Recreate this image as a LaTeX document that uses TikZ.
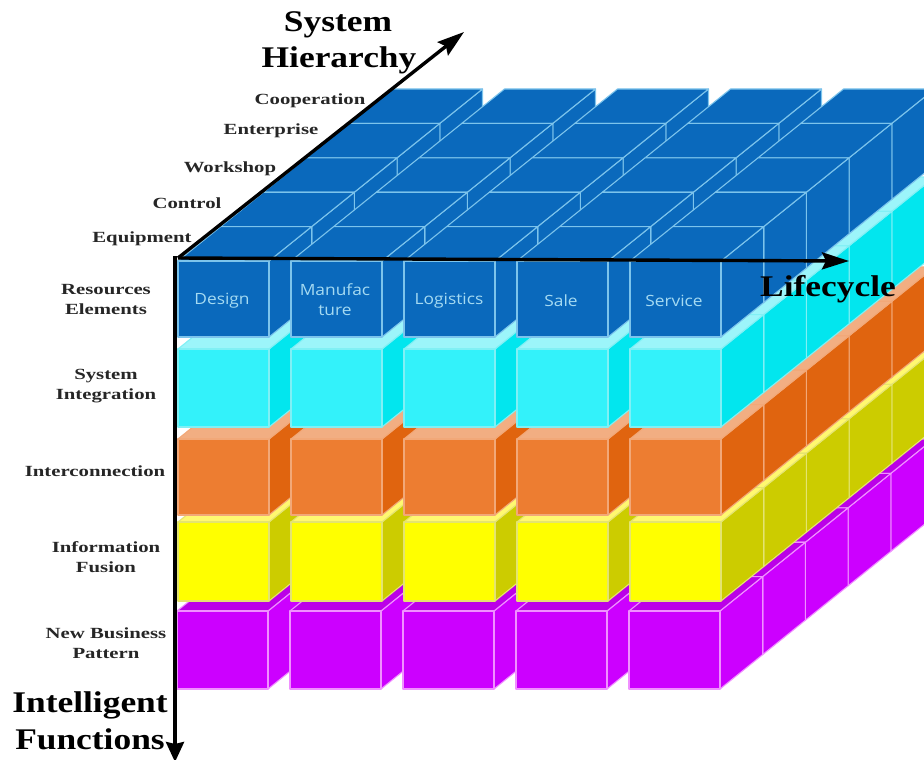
\documentclass[tikz,border=0pt]{standalone}
\usepackage{fontspec}
\setmainfont{Liberation Serif}
\newfontfamily\facefont[FakeStretch=1.12]{Open Sans}
\newfontfamily\bigfont[FakeStretch=1.18]{Liberation Serif}
\newfontfamily\smallfont[FakeStretch=1.34]{Liberation Serif}
\usetikzlibrary{arrows.meta}
\definecolor{bluef}{HTML}{0A69BC}
\definecolor{bluee}{HTML}{7CC4EC}
\definecolor{cyanf}{HTML}{33F2FA}
\definecolor{cyans}{HTML}{02E6EE}
\definecolor{cyant}{HTML}{9CF5FA}
\definecolor{cyane}{HTML}{80F0F5}
\definecolor{orangef}{HTML}{ED7D31}
\definecolor{oranges}{HTML}{E0640F}
\definecolor{oranget}{HTML}{F2AE82}
\definecolor{orangee}{HTML}{F2A878}
\definecolor{yellowf}{HTML}{FFFF00}
\definecolor{yellows}{HTML}{CCCC00}
\definecolor{yellowt}{HTML}{FFF870}
\definecolor{yellowe}{HTML}{E4E470}
\definecolor{purplef}{HTML}{CC00FF}
\definecolor{purplet}{HTML}{BB00E8}
\definecolor{purplee}{HTML}{F090FF}
\definecolor{facetext}{HTML}{A4DAF2}
\tikzset{
  axisline/.style={line width=3.4pt,black},
  longhead/.style={-{Stealth[length=27pt,width=17pt,inset=4pt]}},
  shorthead/.style={-{Stealth[length=20pt,width=18pt,inset=2pt]}},
  smalllabel/.style={font=\smallfont\bfseries\fontsize{15.5}{20}\selectfont,align=center,text=black!85,inner sep=0pt},
  biglabel/.style={font=\bigfont\bfseries\fontsize{30}{35}\selectfont,align=center,text=black,inner sep=0pt},
  facelabel/.style={font=\facefont\fontsize{15.5}{20}\selectfont,align=center,text=facetext,inner sep=0pt},
  cubeface/.style={line width=1.1pt,line join=round}
}
\begin{document}
\begin{tikzpicture}[x=1pt,y=-1pt]
\useasboundingbox (0,0) rectangle (924,760);
\clip (0,0) rectangle (924,760);
\foreach \yt/\yb/\cf/\cs/\ct/\ce/\xo in {
  611/689/purplef/purplef/purplet/purplee/-1,
  522/601/yellowf/yellows/yellowt/yellowe/0,
  439/515/orangef/oranges/oranget/orangee/0,
  349/427/cyanf/cyans/cyant/cyane/0,
  261/337/bluef/bluef/bluef/bluee/0}{
  \foreach \i in {0,...,4}{
    \pgfmathsetmacro{\xl}{178+113*\i+\xo}
    \pgfmathsetmacro{\xr}{\xl+91}
    \foreach \j in {4,3,2,1,0}{
      \pgfmathsetmacro{\dxa}{42.7*\j}
      \pgfmathsetmacro{\dya}{-34.4*\j}
      \pgfmathsetmacro{\dxb}{42.7*(\j+1)}
      \pgfmathsetmacro{\dyb}{-34.4*(\j+1)}
      \draw[cubeface,draw=\ce,fill=\cs]
        (\xr+\dxa,\yt+\dya) -- (\xr+\dxb,\yt+\dyb) -- (\xr+\dxb,\yb+\dyb) -- (\xr+\dxa,\yb+\dya) -- cycle;
      \draw[cubeface,draw=\ce,fill=\ct]
        (\xl+\dxa,\yt+\dya) -- (\xr+\dxa,\yt+\dya) -- (\xr+\dxb,\yt+\dyb) -- (\xl+\dxb,\yt+\dyb) -- cycle;
    }
    \draw[cubeface,draw=\ce,fill=\cf] (\xl,\yt) rectangle (\xr,\yb);
  }
}
% axes
\coordinate (origin) at (178,258);
\coordinate (hierarchytip) at (464,32);
\coordinate (lifecycletip) at (849,261);
\coordinate (verticalstart) at (175,256);
\coordinate (functionstip) at (175,762);
\draw[axisline,longhead] (origin) -- (hierarchytip);
\draw[axisline,longhead] (origin) -- (lifecycletip);
\draw[axisline,shorthead] (verticalstart) -- (functionstip);
% face labels
\node[facelabel] (design) at (222,301) {Design};
\node[facelabel] (manufacture) at (335,300) {Manufac\\ture};
\node[facelabel] (logistics) at (449,301) {Logistics};
\node[facelabel] (sale) at (561,301) {Sale};
\node[facelabel] (service) at (674,301) {Service};
% system hierarchy levels
\node[smalllabel] (cooperation) at (310,101) {Cooperation};
\node[smalllabel] (enterprise) at (271,131) {Enterprise};
\node[smalllabel] (workshop) at (230,169) {Workshop};
\node[smalllabel] (control) at (187,203) {Control};
\node[smalllabel] (equipment) at (142,239) {Equipment};
% functions
\node[smalllabel] (resources) at (106,299) {Resources\\Elements};
\node[smalllabel] (integration) at (106,386) {System\\Integration};
\node[smalllabel] (interconnection) at (95,471) {Interconnection};
\node[smalllabel] (fusion) at (106,557) {Information\\Fusion};
\node[smalllabel] (business) at (106,643) {New Business\\Pattern};
% axis titles
\node[biglabel] (system) at (338,25) {System};
\node[biglabel] (hierarchy) at (339,60) {Hierarchy};
\node[biglabel] (lifecycle) at (828,289) {Lifecycle};
\node[biglabel] (intelligent) at (90,705) {Intelligent};
\node[biglabel] (functions) at (90,739) {Functions};
\end{tikzpicture}
\end{document}
